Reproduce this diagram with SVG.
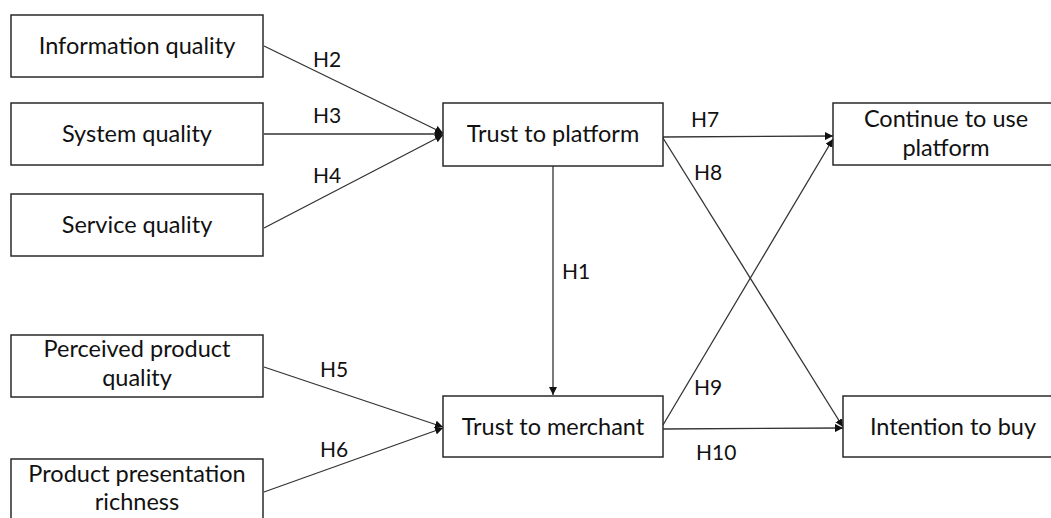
<svg xmlns="http://www.w3.org/2000/svg" width="1051" height="518" viewBox="0 0 1051 518">
<style>
.box{fill:#fff;stroke:#2a2a2a;stroke-width:1.5}
.t{font-family:Lato,"Open Sans","Liberation Sans",sans-serif;font-size:23.5px;fill:#111;text-anchor:middle}
.l{font-family:Lato,"Open Sans","Liberation Sans",sans-serif;font-size:21px;fill:#111}
.c{stroke:#333;stroke-width:1.3;fill:none;marker-end:url(#a)}
</style>
<defs>
<marker id="a" viewBox="0 0 10 10" refX="10" refY="5" markerWidth="8" markerHeight="8" markerUnits="userSpaceOnUse" orient="auto">
<path d="M0,0 L10,5 L0,10 z" fill="#111"/>
</marker>
</defs>
<rect width="1051" height="518" fill="#fff"/>
<g id="connectors">
<line class="c" x1="264" y1="46" x2="443" y2="133"/>
<line class="c" x1="264" y1="134" x2="443" y2="134"/>
<line class="c" x1="264" y1="228" x2="443" y2="135"/>
<line class="c" x1="264" y1="367" x2="443" y2="427"/>
<line class="c" x1="264" y1="492" x2="443" y2="428"/>
<line class="c" x1="553" y1="166" x2="553" y2="395"/>
<line class="c" x1="663" y1="137" x2="833" y2="136"/>
<line class="c" x1="663" y1="138" x2="843" y2="427"/>
<line class="c" x1="663" y1="425" x2="833" y2="139"/>
<line class="c" x1="663" y1="429" x2="843" y2="428"/>
<text class="l" x="313" y="67">H2</text>
<text class="l" x="313" y="123">H3</text>
<text class="l" x="313" y="183">H4</text>
<text class="l" x="320" y="377">H5</text>
<text class="l" x="320" y="457">H6</text>
<text class="l" x="562" y="279">H1</text>
<text class="l" x="691" y="127">H7</text>
<text class="l" x="694" y="180">H8</text>
<text class="l" x="694" y="395">H9</text>
<text class="l" x="696" y="460">H10</text>
</g>
<g id="info"><rect class="box" x="11" y="15" width="252" height="62"/><text class="t" x="137" y="54">Information quality</text></g>
<g id="system"><rect class="box" x="11" y="103" width="252" height="62"/><text class="t" x="137" y="142">System quality</text></g>
<g id="service"><rect class="box" x="11" y="194" width="252" height="62"/><text class="t" x="137" y="233">Service quality</text></g>
<g id="perceived"><rect class="box" x="11" y="335" width="252" height="62"/><text class="t" x="137" y="357">Perceived product</text><text class="t" x="137" y="386">quality</text></g>
<g id="presentation"><rect class="box" x="11" y="459" width="252" height="70"/><text class="t" x="137" y="482">Product presentation</text><text class="t" x="137" y="510">richness</text></g>
<g id="trust-platform"><rect class="box" x="443" y="103" width="220" height="63"/><text class="t" x="553" y="142">Trust to platform</text></g>
<g id="trust-merchant"><rect class="box" x="443" y="396" width="220" height="61"/><text class="t" x="553" y="435">Trust to merchant</text></g>
<g id="continue"><rect class="box" x="833" y="103" width="230" height="62"/><text class="t" x="946" y="127">Continue to use</text><text class="t" x="946" y="156">platform</text></g>
<g id="intention"><rect class="box" x="843" y="396" width="230" height="61"/><text class="t" x="953" y="435">Intention to buy</text></g>
</svg>
